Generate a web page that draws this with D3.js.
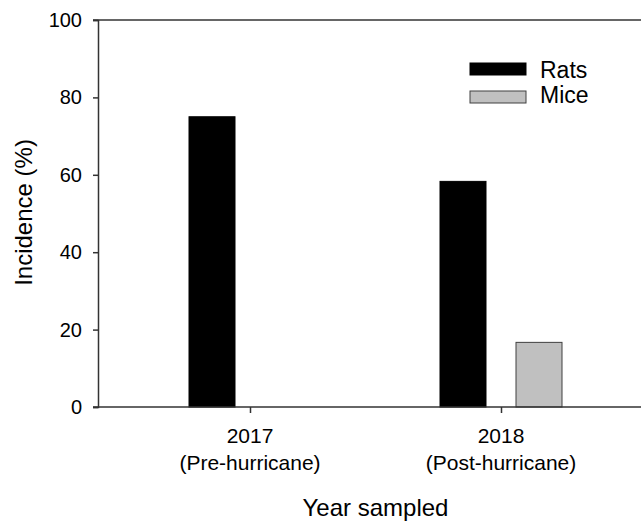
<!DOCTYPE html>
<html>
<head>
<meta charset="utf-8">
<script src="https://cdn.jsdelivr.net/npm/d3@7"></script>
<style>
  body { margin: 0; background: #fff; }
  svg { font-family: Arial, "Liberation Sans", sans-serif; }
</style>
</head>
<body>
<svg id="chart" width="641" height="521"></svg>
<script>
// Incidence by year, rats vs mice
var years = ['2017', '2018'];
var yearNotes = ['(Pre-hurricane)', '(Post-hurricane)'];
var species = ['Rats', 'Mice'];
var rats = [75.0, 58.3];
var mice = [0, 16.7];
var yTicks = [0, 20, 40, 60, 80, 100];

var COLORS = { Rats: '#000000', Mice: '#c0c0c0' };
var STROKES = { Rats: '#000000', Mice: '#404040' };
var AXIS = '#333333';

var LEFT = 98, TOP = 20, BOTTOM = 407, RIGHT = 660;
var STEP = 251;     // distance between the two year ticks
var BARW = 46;      // bar width
var OFFSET = 38;    // bar center offset from tick

var svg = d3.select('#chart');

var x = d3.scalePoint()
    .domain(years)
    .range([LEFT + 152, LEFT + 152 + STEP]);

var y = d3.scaleLinear()
    .domain([0, 100])
    .range([BOTTOM, TOP]);

var series = { Rats: rats, Mice: mice };

// bars
species.forEach(function(sp, si) {
  var dx = si === 0 ? -OFFSET : OFFSET;
  svg.append('g').selectAll('rect')
      .data(series[sp].map(function(v, i) { return { year: years[i], value: v }; })
                      .filter(function(d) { return d.value > 0; }))
      .enter()
      .append('rect')
      .attr('x', function(d) { return x(d.year) + dx - BARW / 2; })
      .attr('y', function(d) { return y(d.value); })
      .attr('width', BARW)
      .attr('height', function(d) { return y(0) - y(d.value); })
      .attr('fill', COLORS[sp])
      .attr('stroke', STROKES[sp])
      .attr('stroke-width', 1);
});

// y axis
var yAxis = svg.append('g')
    .attr('transform', 'translate(' + LEFT + ',0)')
    .call(d3.axisLeft(y).tickValues(yTicks).tickSize(5).tickPadding(11));
yAxis.select('.domain').attr('stroke', AXIS).attr('stroke-width', 1.5);
yAxis.selectAll('.tick line').attr('stroke', AXIS).attr('stroke-width', 1.5);
yAxis.selectAll('.tick text')
    .attr('font-size', 20)
    .attr('fill', '#000')
    .attr('font-family', 'Arial, "Liberation Sans", sans-serif');

// top frame line
svg.append('line')
    .attr('x1', LEFT - 5).attr('x2', RIGHT)
    .attr('y1', y(100)).attr('y2', y(100))
    .attr('stroke', AXIS).attr('stroke-width', 1.5);

// x axis
var xAxis = svg.append('g')
    .attr('transform', 'translate(0,' + BOTTOM + ')')
    .call(d3.axisBottom(x).tickSize(6).tickFormat(''));
xAxis.select('.domain').remove();
xAxis.selectAll('.tick line').attr('stroke', AXIS).attr('stroke-width', 1.5);
svg.append('line')
    .attr('x1', LEFT - 5).attr('x2', RIGHT)
    .attr('y1', BOTTOM).attr('y2', BOTTOM)
    .attr('stroke', AXIS).attr('stroke-width', 1.5);

var labels = svg.append('g').selectAll('text')
    .data(years)
    .enter()
    .append('text')
    .attr('x', function(d) { return x(d); })
    .attr('text-anchor', 'middle')
    .attr('font-size', 21)
    .attr('fill', '#000');
labels.append('tspan')
    .attr('x', function(d) { return x(d); })
    .attr('y', 443)
    .text(function(d) { return d; });
labels.append('tspan')
    .attr('x', function(d) { return x(d); })
    .attr('y', 470)
    .text(function(d, i) { return yearNotes[i]; });

// axis titles
svg.append('text')
    .attr('x', (LEFT + 152 + LEFT + 152 + STEP) / 2)
    .attr('y', 516)
    .attr('text-anchor', 'middle')
    .attr('font-size', 24)
    .text('Year sampled');

svg.append('text')
    .attr('transform', 'translate(32,' + 212.5 + ') rotate(-90)')
    .attr('text-anchor', 'middle')
    .attr('font-size', 24)
    .text('Incidence (%)');

// legend
var legend = svg.append('g').attr('transform', 'translate(470,63)');
species.forEach(function(sp, i) {
  var row = legend.append('g').attr('transform', 'translate(0,' + (i * 28) + ')');
  row.append('rect')
      .attr('width', 56).attr('height', 12)
      .attr('fill', COLORS[sp])
      .attr('stroke', STROKES[sp])
      .attr('stroke-width', 1);
  row.append('text')
      .attr('x', 70).attr('y', 14.5 - i * 3)
      .attr('font-size', 23)
      .text(sp);
});
</script>
</body>
</html>
